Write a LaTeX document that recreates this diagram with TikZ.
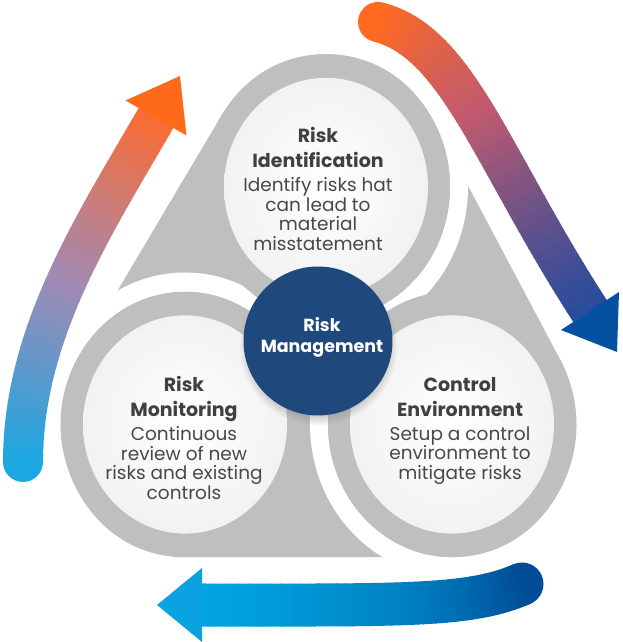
\documentclass[tikz,border=0pt]{standalone}
\usepackage{fontspec}
\setmainfont{Poppins}
\usetikzlibrary{positioning,shadows}

\definecolor{ringgray}{RGB}{191,191,191}
\definecolor{innerwhite}{RGB}{242,242,242}
\definecolor{hubblue}{RGB}{31,73,125}
\definecolor{titlegray}{RGB}{64,64,64}
\definecolor{bodygray}{RGB}{72,72,72}
% left arrow
\definecolor{lcA}{RGB}{27,167,226}
\definecolor{lcB}{RGB}{162,138,180}
\definecolor{lcC}{RGB}{250,108,50}
\definecolor{lhead}{RGB}{255,106,26}
% top right arrow
\definecolor{rcA}{RGB}{255,106,32}
\definecolor{rcB}{RGB}{192,90,112}
\definecolor{rcC}{RGB}{38,76,156}
\definecolor{rhead}{RGB}{5,80,160}
% bottom arrow
\definecolor{bcA}{RGB}{0,76,150}
\definecolor{bcB}{RGB}{0,124,192}
\definecolor{bcC}{RGB}{0,165,226}
\definecolor{bhead}{RGB}{10,162,224}

% number of pieces for a shaded arrow body
\newcommand\NumSteps{48}
% #1-#4: curve points, #5-#7: colours, #8: width
\newcommand\gradbody[8]{%
  \foreach \i in {1,...,\NumSteps} {
    \pgfmathsetmacro\ta{(\i-1)/\NumSteps}
    \pgfmathsetmacro\tb{\i/\NumSteps}
    \pgfmathsetmacro\Pone{min(100,200*(\i-0.5)/\NumSteps)}
    \pgfmathsetmacro\Ptwo{max(0,200*(\i-0.5)/\NumSteps-100)}
    \colorlet{mixA}{#6!\Pone!#5}
    \colorlet{mixB}{#7!\Ptwo!mixA}
    \path (#1) .. controls (#2) and (#3) .. (#4)
      coordinate[pos=\ta] (ga) coordinate[pos=\tb] (gb);
    \draw[mixB, line width=#8, shorten <=-0.6pt, shorten >=-0.6pt] (ga) -- (gb);
  }%
}

\begin{document}
\begin{tikzpicture}[x=1pt, y=1pt,
    titletext/.style={font=\fontsize{19}{25}\selectfont\bfseries, text=titlegray,
      align=center, inner sep=0pt, text depth=4pt},
    bodytext/.style={font=\fontsize{18.5}{19.5}\selectfont, text=bodygray,
      align=center, inner sep=0pt},
    hubdisc/.style={circle, fill=hubblue, minimum size=149pt, inner sep=0pt,
      circular drop shadow={shadow xshift=0pt, shadow yshift=-5pt,
        shadow scale=1.06, opacity=0.45}},
    hubtext/.style={font=\fontsize{17.5}{21}\selectfont\bfseries, text=white,
      align=center, inner sep=0pt},
    halo/.style={white, line width=18pt}]
  \useasboundingbox (0,0) rectangle (622,642);

  % Gray triangle, white gaps and the three rings
  \begin{scope}[transform canvas={shift={(318,301)}, yscale=1.07}]
    \coordinate (T) at (8,144);
    \coordinate (L) at (-133,-78);
    \coordinate (R) at (134,-78);
    % triangle with round corners
    \filldraw[ringgray, line width=248pt, line join=round] (T) -- (L) -- (R) -- cycle;
    % white gaps on one side of each ring
    \draw[halo] ([shift={(32:133)}]T) arc[start angle=32, end angle=-115, radius=133];
    \draw[halo] ([shift={(150:133)}]L) arc[start angle=150, end angle=10, radius=133];
    \draw[halo] ([shift={(272:133)}]R) arc[start angle=272, end angle=125, radius=133];
    % rings
    \foreach \ring in {T,L,R} {
      \fill[ringgray] (\ring) circle[radius=124];
      \shade[inner color=white, outer color=innerwhite] (\ring) circle[radius=102];
    }
  \end{scope}

  % Centre disc
  \node[hubdisc] (hub) at (318,301) {};
  \node[hubtext, anchor=north] (hublabel) at (322,325) {Risk\\Management};

  % Ring texts
  \node[titletext, anchor=north] (idtitle) at (318,515) {Risk\\Identification};
  \node[bodytext, below=6pt of idtitle] (idtext) {Identify risks hat\\can lead to\\material\\misstatement};
  \node[titletext, anchor=north] (montitle) at (184,266) {Risk\\Monitoring};
  \node[bodytext, below=6pt of montitle] (montext) {Continuous\\review of new\\risks and existing\\controls};
  \node[titletext, anchor=north] (ctltitle) at (460,265) {Control\\Environment};
  \node[bodytext, below=6pt of ctltitle] (ctltext) {Setup a control\\environment to\\mitigate risks};

  % Left arrow, going up
  \coordinate (la) at (23,180);
  \coordinate (lb) at (23,310);
  \coordinate (lc) at (96,420);
  \coordinate (ld) at (156,524);
  \fill[lcA] (la) circle[radius=20];
  \gradbody{la}{lb}{lc}{ld}{lcA}{lcB}{lcC}{40pt}
  \fill[lhead] (180,566) -- (125.5,541.5) -- (186.5,506.5) -- cycle;

  % Top right arrow, going down
  \coordinate (ra) at (378,620);
  \coordinate (rb) at (458,600);
  \coordinate (rc) at (492,482);
  \coordinate (rd) at (590,331);
  \fill[rcA] (ra) circle[radius=20];
  \gradbody{ra}{rb}{rc}{rd}{rcA}{rcB}{rcC}{40pt}
  \fill[rhead] (617,290) -- (619,350) -- (561,312) -- cycle;

  % Bottom arrow, going left
  \coordinate (ba) at (522,58);
  \coordinate (bb) at (470,35);
  \coordinate (bc) at (400,37);
  \coordinate (bd) at (202,37);
  \fill[bcA] (ba) circle[radius=21.5];
  \gradbody{ba}{bb}{bc}{bd}{bcA}{bcB}{bcC}{43pt}
  \fill[bhead] (157,37) -- (202,74) -- (202,0) -- cycle;
\end{tikzpicture}
\end{document}
